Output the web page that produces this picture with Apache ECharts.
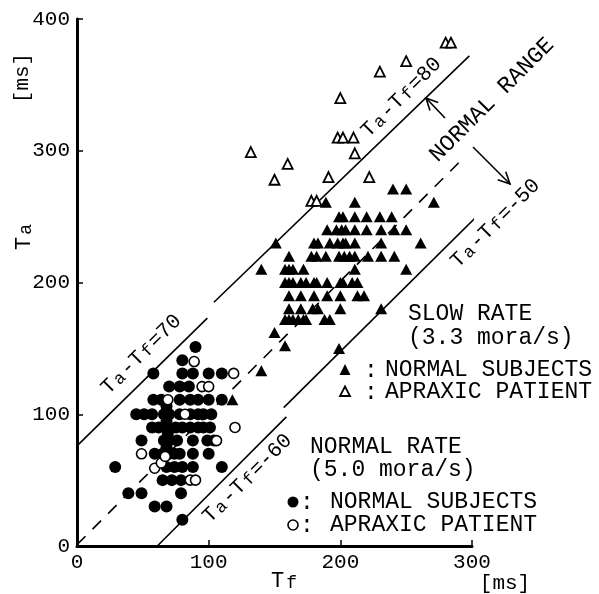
<!DOCTYPE html>
<html><head><meta charset="utf-8">
<script src="https://cdn.jsdelivr.net/npm/echarts@6/dist/echarts.min.js"></script>
<style>html,body{margin:0;padding:0;background:#fff}#c{width:599px;height:594px}</style>
</head><body><div id="c"></div>
<script>
// ---- data ----
const xTicks = [0, 100, 200, 300];
const yTicks = [0, 100, 200, 300, 400];

// SLOW RATE (3.3 mora/s), normal subjects: [Tf, Ta]
const slowNormal = [
 [240,271],[250,271],
 [189,261],[211,261],[271,261],
 [199,250],[202,250],[211,250],[220,250],[230,250],[239,250],
 [190,240],[197,240],[201,240],[204,240],[211,240],[220,240],[231,240],[241,240],[250,240],
 [151,230],[180,230],[183,230],[192,230],[198,230],[202,230],[204,230],[211,230],[231,230],[261,230],
 [161,220],[178,220],[182,220],[189,220],[199,220],[203,220],[207,220],[211,220],[221,220],[231,220],[241,220],
 [140,210],[158,210],[161,210],[164,210],[172,210],[211,210],[250,210],
 [158,200],[161,200],[164,200],[170,200],[174,200],[180,200],[182,200],[190,200],[200,200],[202,200],[209,200],[213,200],
 [161,190],[170,190],[180,190],[190,190],[200,190],[213,190],[218,190],
 [161,180],[170,180],[179,180],[183,180],[200,180],[231,180],
 [158,172],[161,172],[164,172],[168,172],[172,172],[174,172],[188,172],[192,172],
 [150,162],[158,152],[199,150],[140,133],[118,111]
];
// SLOW RATE, apraxic patient
const slowApraxic = [
 [132,299],[160,290],[150,278],[200,340],[230,360],[250,368],[280,382],[284,382],
 [198,310],[202,310],[210,310],[211,298],[191,280],[222,280],[178,262],[182,262]
];
// NORMAL RATE (5.0 mora/s), normal subjects
const normalNormal = [
 [90,151],
 [80,141],
 [58,131],[80,131],[88,131],[100,131],[110,131],
 [70,121],[78,121],[85,121],
 [58,111],[64,111],[68,106],[78,111],[86,111],[92,111],[100,111],[110,111],
 [45,100],[51,100],[57,100],[66,100],[70,100],[78,100],[86,100],[92,100],[96,100],[102,100],
 [57,90],[62,90],[67,90],[70,90],[75,90],[80,90],[86,90],[92,90],[96,90],[101,90],
 [68,95],[69,85],[68,75],
 [49,80],[66,80],[70,80],[76,80],[88,80],[99,80],[104,80],
 [59,70],[65,70],[70,70],[74,70],[78,70],[88,70],[100,70],
 [29,60],[68,60],[74,60],[80,60],[88,60],[110,60],
 [65,50],[72,50],[79,50],
 [39,40],[49,40],[79,40],
 [59,30],[68,30],
 [80,20]
];
// NORMAL RATE, apraxic patient
const normalApraxic = [
 [89,140],[119,131],[95,121],[100,121],[69,111],[120,90],[49,70],[59,59],[64,63],
 [86,50],[90,50],[106,80],[82,100],[67,68]
];
// boundary lines [Tf, Ta] endpoints
const lineNormalUpper = [[0,76],[99,173]];      // Ta-Tf=70
const lineSlowUpper   = [[104,185],[298,372]];  // Ta-Tf=80
const lineNormalLower = [[61,0],[159,98]];      // Ta-Tf=-60
const lineSlowLower   = [[157,105],[350,296]];  // Ta-Tf=-50
const lineDashed      = [[0,1],[291,292]];

// ---- chart ----
const FONT = 'Liberation Mono';
const chart = echarts.init(document.getElementById('c'));

function solid(d){ return {type:'line', data:d, symbol:'none', clip:false, silent:true,
  lineStyle:{color:'#000', width:1.6}, z:1}; }

const txtStyle = (t, size, align) => ({text:t, font:`${size}px "${FONT}"`, fill:'#000',
  align: align||'left', verticalAlign:'middle'});

function richLabel(main, sub1, mid, sub2, tail, size){
  return {
    text: `{a|${main}}{b|${sub1}}{a|${mid}}{b|${sub2}}{a|${tail}}`,
    rich: {
      a: {fontFamily:FONT, fontSize:size, lineHeight:size+4, fill:'#000', verticalAlign:'bottom'},
      b: {fontFamily:FONT, fontSize:size-4, lineHeight:size-4, fill:'#000', verticalAlign:'bottom', padding:[0,2,0,2]}
    },
    align:'center', verticalAlign:'middle', fill:'#000'
  };
}

function arrow(x1,y1,x2,y2){
  const dx=x2-x1, dy=y2-y1, L=Math.hypot(dx,dy), ux=dx/L, uy=dy/L;
  const h=13, a=0.45;
  const p1=[x2 - h*(ux*Math.cos(a) - uy*Math.sin(a)), y2 - h*(uy*Math.cos(a) + ux*Math.sin(a))];
  const p2=[x2 - h*(ux*Math.cos(-a) - uy*Math.sin(-a)), y2 - h*(uy*Math.cos(-a) + ux*Math.sin(-a))];
  return [
    {type:'line', shape:{x1,y1,x2,y2}, style:{stroke:'#000', lineWidth:1.6}},
    {type:'polyline', shape:{points:[p1,[x2,y2],p2]}, style:{stroke:'#000', lineWidth:1.6, fill:null}}
  ];
}

const graphics = [
  // axis titles
  {type:'text', x:22, y:78, rotation:Math.PI/2, style:txtStyle('[ms]',21,'center')},
  {type:'text', x:22, y:234, rotation:Math.PI/2, style:richLabel('T','a','','','',22)},
  {type:'text', x:287, y:579, style:richLabel('T','f','','','',22)},
  {type:'text', x:505, y:583, style:txtStyle('[ms]',21,'center')},
  // line labels
  {type:'text', x:140, y:353, rotation:Math.PI/4, style:richLabel('T','a','-T','f','=70',21)},
  {type:'text', x:400, y:96, rotation:Math.PI/4, style:richLabel('T','a','-T','f','=80',21)},
  {type:'text', x:494, y:222, rotation:Math.PI/4, style:richLabel('T','a','-T','f','=-50',21)},
  {type:'text', x:246, y:477, rotation:Math.PI/4, style:richLabel('T','a','-T','f','=-60',21)},
  {type:'text', x:492, y:100, rotation:Math.PI/4, style:txtStyle('NORMAL RANGE',23,'center')},
  // legends
  {type:'text', x:408, y:314, style:txtStyle('SLOW RATE',23)},
  {type:'text', x:408, y:338, style:txtStyle('(3.3 mora/s)',23)},
  {type:'polygon', shape:{points:[[345,364],[339.5,375],[350.5,375]]}, style:{fill:'#000'}},
  {type:'text', x:371, y:371, style:txtStyle(':',23,'center')},
  {type:'text', x:385, y:370, style:txtStyle('NORMAL SUBJECTS',23)},
  {type:'polygon', shape:{points:[[345,386.5],[340,396],[350,396]]}, style:{fill:'#fff', stroke:'#000', lineWidth:1.8}},
  {type:'text', x:371, y:393, style:txtStyle(':',23,'center')},
  {type:'text', x:385, y:392, style:txtStyle('APRAXIC PATIENT',23)},
  {type:'text', x:310, y:447, style:txtStyle('NORMAL RATE',23)},
  {type:'text', x:310, y:470, style:txtStyle('(5.0 mora/s)',23)},
  {type:'circle', shape:{cx:293, cy:502, r:5.5}, style:{fill:'#000'}},
  {type:'text', x:307, y:503, style:txtStyle(':',23,'center')},
  {type:'text', x:330, y:502, style:txtStyle('NORMAL SUBJECTS',23)},
  {type:'circle', shape:{cx:293, cy:525, r:5}, style:{fill:'#fff', stroke:'#000', lineWidth:1.6}},
  {type:'text', x:307, y:526, style:txtStyle(':',23,'center')},
  {type:'text', x:330, y:525, style:txtStyle('APRAXIC PATIENT',23)},
  ...arrow(445,118,426,98),
  ...arrow(473,147,510,184)
];

const axisCommon = {
  type:'value', interval:100,
  axisLine:{show:true, lineStyle:{color:'#000', width:3}},
  axisTick:{show:true, inside:true, length:6, lineStyle:{color:'#000', width:1.5}},
  splitLine:{show:false},
};

chart.setOption({
  animation:false,
  backgroundColor:'#fff',
  grid:{left:77, right:127, top:19, bottom:48},
  xAxis: Object.assign({}, axisCommon, {min:xTicks[0], max:xTicks[xTicks.length-1],
    axisLabel:{color:'#000', fontSize:21, fontFamily:FONT, margin:6,
      formatter: v => xTicks.includes(v) ? String(v) : ''}}),
  yAxis: Object.assign({}, axisCommon, {min:yTicks[0], max:yTicks[yTicks.length-1],
    axisLabel:{color:'#000', fontSize:21, fontFamily:FONT, margin:7,
      formatter: v => yTicks.includes(v) ? String(v) : ''}}),
  series:[
    solid(lineNormalUpper), solid(lineSlowUpper), solid(lineNormalLower), solid(lineSlowLower),
    {type:'line', data:lineDashed, symbol:'none', clip:false, silent:true, z:1,
      lineStyle:{color:'#000', width:1.6, type:[12,10]}},
    {type:'scatter', data:normalNormal, symbol:'circle', symbolSize:12, z:3,
      itemStyle:{color:'#000', opacity:1}},
    {type:'scatter', data:normalApraxic, symbol:'circle', symbolSize:10, z:4,
      itemStyle:{color:'#fff', borderColor:'#000', borderWidth:1.6, opacity:1}},
    {type:'scatter', data:slowNormal, symbol:'triangle', symbolSize:[12,11], z:3,
      itemStyle:{color:'#000', opacity:1}},
    {type:'scatter', data:slowApraxic, symbol:'triangle', symbolSize:[10,10], z:4,
      itemStyle:{color:'#fff', borderColor:'#000', borderWidth:1.8, opacity:1}}
  ],
  graphic: graphics
});
</script>
</body></html>
